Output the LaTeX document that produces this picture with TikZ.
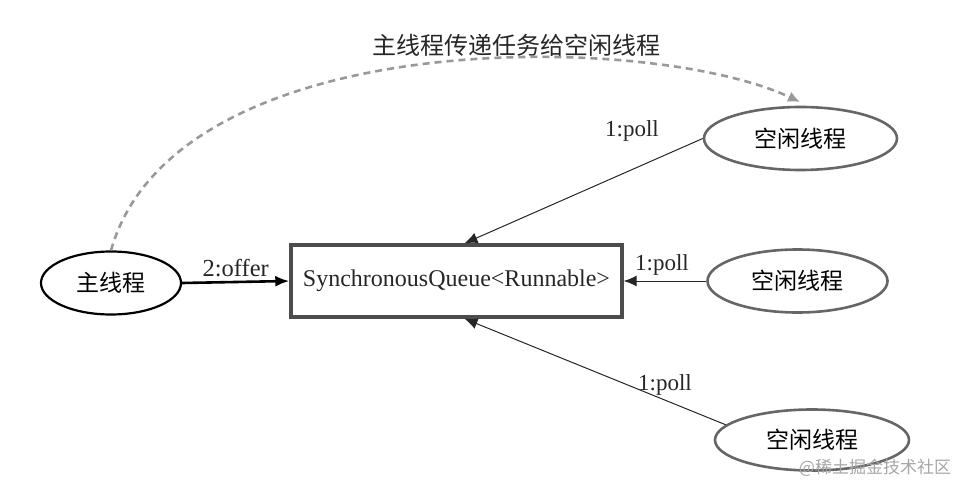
\documentclass[tikz,border=0pt]{standalone}
\usepackage{fontspec}
\setmainfont{Liberation Serif}
\newfontfamily\cjk{Noto Sans CJK SC}
\usetikzlibrary{shapes.geometric,arrows.meta}
\begin{document}
\begin{tikzpicture}[x=1pt,y=1pt,
  ell/.style={ellipse,draw,inner sep=0pt,font=\cjk\fontsize{23}{26}\selectfont},
  mainell/.style={ell,draw=black,line width=2.2pt,minimum width=140pt,minimum height=63pt},
  idleell/.style={ell,draw=black!60,line width=2.6pt,minimum width=193pt,minimum height=63pt},
  qbox/.style={draw=black!70,line width=3.4pt,minimum width=331pt,minimum height=72pt,inner sep=0pt,font=\fontsize{24}{26}\selectfont,text=black!85},
  pollarrow/.style={-{Latex[length=13pt,width=11pt]},line width=1pt,draw=black!85},
  lbl/.style={font=\fontsize{23}{25}\selectfont,text=black!85}
]
\useasboundingbox (0,0) rectangle (972,499);
\node[mainell] (main) at (111,216) {主线程};
\node[qbox] (q) at (456.5,218) {SynchronousQueue<Runnable>};
\node[idleell] (i1) at (800.5,360.5) {空闲线程};
\node[idleell,minimum width=180pt] (i2) at (797.5,218) {空闲线程};
\node[idleell,minimum width=194pt,minimum height=61pt] (i3) at (812,59) {空闲线程};
\node[font=\cjk\fontsize{24}{27}\selectfont,text=black!85] (title) at (516,454) {主线程传递任务给空闲线程};
\node[font=\cjk\fontsize{17}{20}\selectfont,text=black!35] (wm) at (875,31) {@稀土掘金技术社区};

\draw[-{Latex[length=14pt,width=11pt]},line width=2.6pt] (main.east) -- (q.west)
  node[midway,above=1pt,lbl,font=\fontsize{24.5}{26}\selectfont] (offer) {2:offer};
\draw[pollarrow] (i1.west) -- ([xshift=8pt]q.north);
\node[lbl] (l1) at (632,368) {1:poll};
\draw[pollarrow] (i2.west) -- (q.east);
\node[lbl] (l2) at (662,234) {1:poll};
\draw[pollarrow] (i3.170) -- ([xshift=8pt]q.south);
\node[lbl] (l3) at (665,114) {1:poll};
\coordinate (dend) at (800,397);
\draw[dashed,dash pattern=on 7pt off 5pt,line width=2.6pt,draw=black!40,-{Latex[length=12pt,width=11pt]}]
  (main.north) .. controls (175,475) and (650,468) .. (dend);
\end{tikzpicture}
\end{document}
